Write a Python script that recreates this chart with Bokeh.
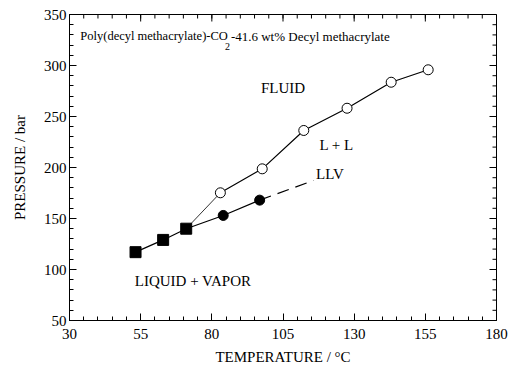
from bokeh.plotting import figure
from bokeh.models import Range1d, FixedTicker, Label
from bokeh.embed import file_html
from bokeh.resources import INLINE

# Data
sq_t = [53.2, 62.9, 71.0]            # filled squares (LV / LLV start)
sq_p = [117, 129, 140]
llv_t = [84.0, 96.8]                 # filled circles (LLV)
llv_p = [153, 168]
llv_ext_t = [96.8, 115.7]            # dashed extension of LLV
llv_ext_p = [168, 187.3]
ll_t = [83.0, 97.7, 112.3, 127.5, 143.0, 156.0]   # open circles (L+L -> fluid)
ll_p = [175.2, 198.7, 236.3, 258.1, 283.6, 295.8]

x_ticks = [30, 55, 80, 105, 130, 155, 180]
y_ticks = [50, 100, 150, 200, 250, 300, 350]
x_minor = list(range(30, 181, 5))
y_minor = list(range(50, 351, 10))

X0, X1, Y0, Y1 = 30, 180, 50, 350
FONT = "Liberation Serif"
FRAME_W, FRAME_H = 427, 306
MAJ, MIN = 7, 4  # tick lengths in px

p = figure(width=511, height=370, x_range=Range1d(X0, X1), y_range=Range1d(Y0, Y1),
           output_backend="svg", toolbar_location=None,
           min_border_left=69, min_border_right=15, min_border_top=14, min_border_bottom=50,
           x_axis_label="TEMPERATURE / °C", y_axis_label="PRESSURE / bar")
p.xgrid.visible = False
p.ygrid.visible = False
p.outline_line_color = "black"
p.outline_line_width = 1
p.background_fill_color = "white"
p.border_fill_color = "white"

def style_axis(ax, ticks, minor):
    ax.ticker = FixedTicker(ticks=ticks, minor_ticks=minor)
    ax.axis_line_color = "black"
    ax.major_tick_line_color = "black"
    ax.minor_tick_line_color = "black"
    ax.major_tick_in = MAJ
    ax.major_tick_out = 0
    ax.minor_tick_in = MIN
    ax.minor_tick_out = 0
    ax.major_label_text_font = FONT
    ax.major_label_text_color = "black"
    ax.major_label_text_font_size = "15px"
    ax.axis_label_text_font = FONT
    ax.axis_label_text_font_style = "normal"
    ax.axis_label_text_font_size = "15px"
    ax.axis_label_text_color = "black"

for ax in p.xaxis:
    style_axis(ax, x_ticks, x_minor)
    ax.major_label_standoff = 8
    ax.axis_label_standoff = 7
for ax in p.yaxis:
    style_axis(ax, y_ticks, y_minor)
    ax.major_label_standoff = 3
    ax.axis_label_standoff = 13

# Ticks on the top and right frame edges (pixel lengths converted to data units)
dy_per_px = (Y1 - Y0) / FRAME_H
dx_per_px = (X1 - X0) / FRAME_W
p.segment(x0=x_ticks, y0=[Y1] * len(x_ticks), x1=x_ticks, y1=[Y1 - MAJ * dy_per_px] * len(x_ticks),
          line_color="black", line_width=1)
p.segment(x0=x_minor, y0=[Y1] * len(x_minor), x1=x_minor, y1=[Y1 - MIN * dy_per_px] * len(x_minor),
          line_color="black", line_width=1)
p.segment(x0=[X1] * len(y_ticks), y0=y_ticks, x1=[X1 - MAJ * dx_per_px] * len(y_ticks), y1=y_ticks,
          line_color="black", line_width=1)
p.segment(x0=[X1] * len(y_minor), y0=y_minor, x1=[X1 - MIN * dx_per_px] * len(y_minor), y1=y_minor,
          line_color="black", line_width=1)

# Lines
p.line(sq_t + llv_t, sq_p + llv_p, line_color="black", line_width=1.2)
p.line([sq_t[-1], ll_t[0]], [sq_p[-1], ll_p[0]], line_color="black", line_width=0.8)
p.line(ll_t, ll_p, line_color="black", line_width=1.2)
p.line(llv_ext_t, llv_ext_p, line_color="black", line_width=1.2, line_dash="12 7")

# Markers
p.scatter(sq_t, sq_p, marker="square", size=11, fill_color="black", line_color="black")
p.scatter(llv_t, llv_p, marker="circle", size=10, fill_color="black", line_color="black")
p.scatter(ll_t, ll_p, marker="circle", size=10, fill_color="white", line_color="black", line_width=1)

def lab(x, y, text, size="15px", align="center", baseline="middle"):
    p.add_layout(Label(x=x, y=y, text=text, text_font=FONT, text_font_size=size,
                       text_align=align, text_baseline=baseline, text_color="black"))

lab(105.0, 277.7, "FLUID")
lab(123.8, 221.6, "L + L")
lab(121.5, 194.0, "LLV")
lab(73.4, 89.2, "LIQUID + VAPOR")

# Title with subscript
lab(33.8, 328.9, "Poly(decyl methacrylate)-CO", size="12.5px", align="left", baseline="alphabetic")
lab(84.6, 318.6, "2", size="10px", align="left", baseline="alphabetic")
lab(86.7, 328.9, "-41.6 wt% Decyl methacrylate", size="13px", align="left", baseline="alphabetic")

open("out.html", "w").write(file_html(p, INLINE))
